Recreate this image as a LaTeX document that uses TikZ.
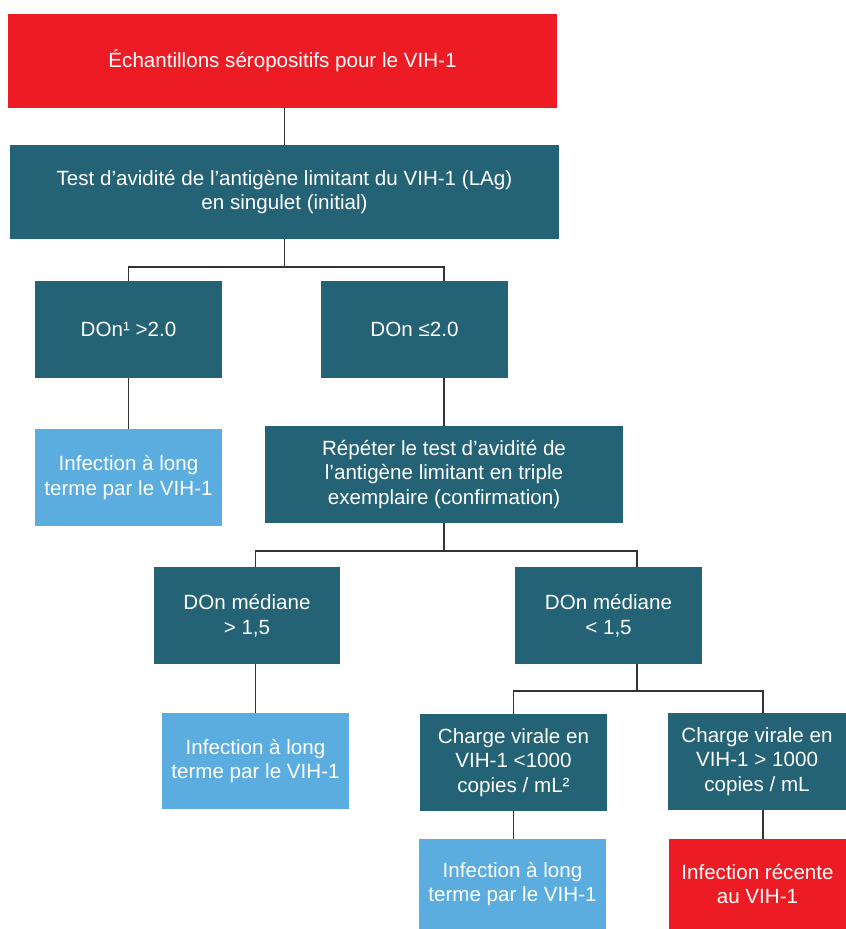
\documentclass[tikz,border=0pt]{standalone}
\usepackage{fontspec}
\setmainfont{Liberation Sans}
\usetikzlibrary{calc}
\definecolor{hivred}{HTML}{ED1C24}
\definecolor{hivteal}{HTML}{246275}
\definecolor{hivblue}{HTML}{5BADE0}
\definecolor{hivline}{HTML}{333333}
\tikzset{
  box/.style={rectangle, inner sep=0pt, outer sep=0pt, text=white, align=center,
    font=\fontsize{20.6}{24.8}\selectfont},
  tealbox/.style={box, fill=hivteal},
  redbox/.style={box, fill=hivred},
  bluebox/.style={box, fill=hivblue},
  conn/.style={draw=hivline, line width=1.5pt}
}
\begin{document}
\begin{tikzpicture}[x=1pt,y=-1pt]
\useasboundingbox (0,0) rectangle (846,929);
% boxes
\node[redbox, minimum width=549pt, minimum height=94pt] (top) at (282.5,61) {Échantillons séropositifs pour le VIH-1};
\node[tealbox, minimum width=549pt, minimum height=94pt] (test) at (284.5,192) {Test d’avidité de l’antigène limitant du VIH-1 (LAg)\\en singulet (initial)};
\node[tealbox, minimum width=187pt, minimum height=97pt] (don1) at (128.5,329.5) {DOn¹ >2.0};
\node[tealbox, minimum width=187pt, minimum height=97pt] (don2) at (414.5,329.5) {DOn ≤2.0};
\node[bluebox, minimum width=187pt, minimum height=97pt] (lt1) at (128.5,477.5) {Infection à long\\terme par le VIH-1};
\node[tealbox, minimum width=358pt, minimum height=97pt] (rep) at (444,474.5) {Répéter le test d’avidité de\\l’antigène limitant en triple\\exemplaire (confirmation)};
\node[tealbox, minimum width=186pt, minimum height=97pt] (med1) at (247,615.5) {DOn médiane\\> 1,5};
\node[tealbox, minimum width=187pt, minimum height=97pt] (med2) at (608.5,615.5) {DOn médiane\\< 1,5};
\node[bluebox, minimum width=187pt, minimum height=96pt] (lt2) at (255.5,761) {Infection à long\\terme par le VIH-1};
\node[tealbox, minimum width=187pt, minimum height=97pt] (cv1) at (513.5,762.5) {Charge virale en\\VIH-1 <1000\\copies / mL²};
\node[tealbox, minimum width=178pt, minimum height=97pt] (cv2) at (757,761.5) {Charge virale en\\VIH-1 > 1000\\copies / mL};
\node[bluebox, minimum width=187pt, minimum height=90pt] (lt3) at (512.5,884) {Infection à long\\terme par le VIH-1};
\node[redbox, minimum width=177pt, minimum height=90pt] (rec) at (757.5,884) {Infection récente\\au VIH-1};
% connectors
\draw[conn] (top.south -| test.north) -- (test.north);
\draw[conn] (test.south) -- ++(0,28);
\draw[conn] (don1.north) -- ++(0,-14) -| (don2.north -| rep.north);
\draw[conn] (don1.south) -- (lt1.north);
\draw[conn] (don2.south -| rep.north) -- (rep.north);
\draw[conn] (rep.south) -- ++(0,28);
\coordinate (m2d) at ($(med2.north)+(28.5,0)$);
\draw[conn] (med1.north -| lt2.north) -- ++(0,-16) -| (m2d);
\draw[conn] (med1.south -| lt2.north) -- (lt2.north);
\coordinate (m2s) at ($(med2.south)+(28.5,0)$);
\draw[conn] (m2s) -- ++(0,27);
\coordinate (c2d) at ($(cv2.north)+(6,0)$);
\draw[conn] (cv1.north) -- ++(0,-23) -| (c2d);
\draw[conn] (cv1.south) -- (cv1.south |- lt3.north);
\coordinate (c2s) at ($(cv2.south)+(6,0)$);
\draw[conn] (c2s) -- (c2s |- rec.north);
\end{tikzpicture}
\end{document}
